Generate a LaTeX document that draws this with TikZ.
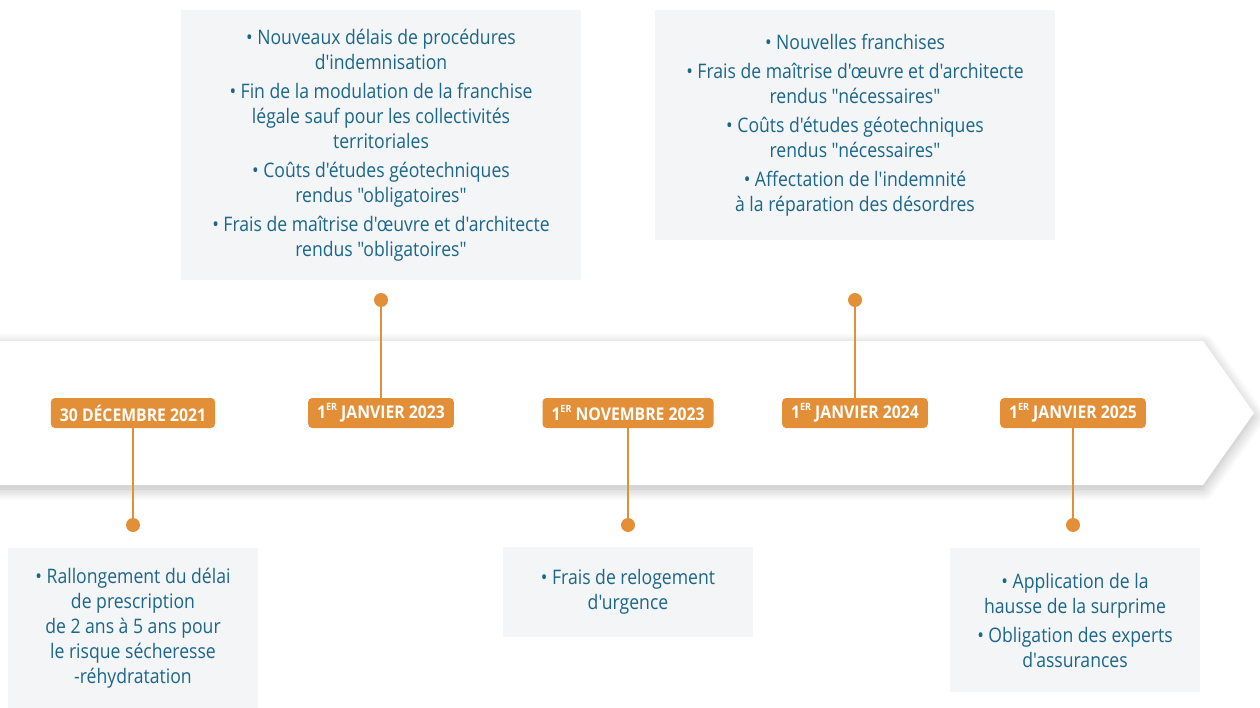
\documentclass[tikz,border=0pt]{standalone}
\usepackage{fontspec}
\setmainfont{Open Sans}[FakeStretch=0.88, Ligatures=TeXOff]
\newfontfamily\labelfont{Open Sans}[FakeStretch=0.9, Ligatures=TeXOff]
\usetikzlibrary{shadows.blur}
\definecolor{txtblue}{HTML}{1B6689}
\definecolor{orng}{HTML}{E38F38}
\definecolor{boxfill}{HTML}{F3F5F7}
\tikzset{
  infobox/.style={fill=boxfill, draw=none, text=txtblue, align=center, inner sep=0pt,
    font=\fontsize{20}{25}\selectfont},
  datelabel/.style={fill=orng, rounded corners=4pt, text=white, inner xsep=9pt, inner ysep=0pt,
    minimum height=30pt, font=\labelfont\fontsize{17.5}{20}\selectfont\bfseries},
  pin/.style={circle, fill=orng, inner sep=0pt, minimum size=14pt},
  stem/.style={draw=orng, line width=2pt},
}
\newcommand{\er}{\raisebox{0.45em}{\fontsize{10}{10}\selectfont ER}}
\begin{document}
\begin{tikzpicture}[x=1pt,y=-1pt]
\useasboundingbox (0,0) rectangle (1260,708);
\begin{scope}
\clip (0,0) rectangle (1260,708);
\fill[white, blur shadow={shadow xshift=0pt, shadow yshift=-4pt, shadow blur radius=12pt, shadow blur steps=14, shadow opacity=28}]
  (-30,341) -- (1203,341) -- (1254,413) -- (1203,485) -- (-30,485) -- cycle;
\end{scope}
% boxes
\node[infobox, minimum width=400pt, minimum height=270pt] (t1) at (381,145)
 {• Nouveaux délais de procédures\\ d'indemnisation\\[4pt]
  • Fin de la modulation de la franchise\\ légale sauf pour les collectivités\\ territoriales\\[4pt]
  • Coûts d'études géotechniques\\ rendus "obligatoires"\\[4pt]
  • Frais de maîtrise d'œuvre et d'architecte\\ rendus "obligatoires"};
\node[infobox, minimum width=400pt, minimum height=230pt] (t2) at (855,125)
 {• Nouvelles franchises\\[4pt]
  • Frais de maîtrise d'œuvre et d'architecte\\ rendus "nécessaires"\\[4pt]
  • Coûts d'études géotechniques\\ rendus "nécessaires"\\[4pt]
  • Affectation de l'indemnité\\ à la réparation des désordres};
\node[infobox, minimum width=250pt, minimum height=160pt] (b1) at (133,628)
 {• Rallongement du délai\\ de prescription\\ de 2 ans à 5 ans pour\\ le risque sécheresse\\ -réhydratation};
\node[infobox, minimum width=250pt, minimum height=90pt] (b2) at (628,592)
 {• Frais de relogement\\ d'urgence};
\node[infobox, minimum width=250pt, minimum height=144pt] (b3) at (1075,620)
 {• Application de la\\ hausse de la surprime\\[4pt]
  • Obligation des experts\\ d'assurances};
% date labels
\node[datelabel] (d1) at (133,413) {30 DÉCEMBRE 2021};
\node[datelabel] (d2) at (381,413) {1\er{} JANVIER 2023};
\node[datelabel] (d3) at (628,413) {1\er{} NOVEMBRE 2023};
\node[datelabel] (d4) at (855,413) {1\er{} JANVIER 2024};
\node[datelabel] (d5) at (1073,413) {1\er{} JANVIER 2025};
% pins
\node[pin] (p1) at (133,525) {};
\node[pin] (p2) at (381,300) {};
\node[pin] (p3) at (628,525) {};
\node[pin] (p4) at (855,300) {};
\node[pin] (p5) at (1073,525) {};
\draw[stem] (d1.south) -- (p1.center);
\draw[stem] (p2.center) -- (d2.north);
\draw[stem] (d3.south) -- (p3.center);
\draw[stem] (p4.center) -- (d4.north);
\draw[stem] (d5.south) -- (p5.center);
\end{tikzpicture}
\end{document}
